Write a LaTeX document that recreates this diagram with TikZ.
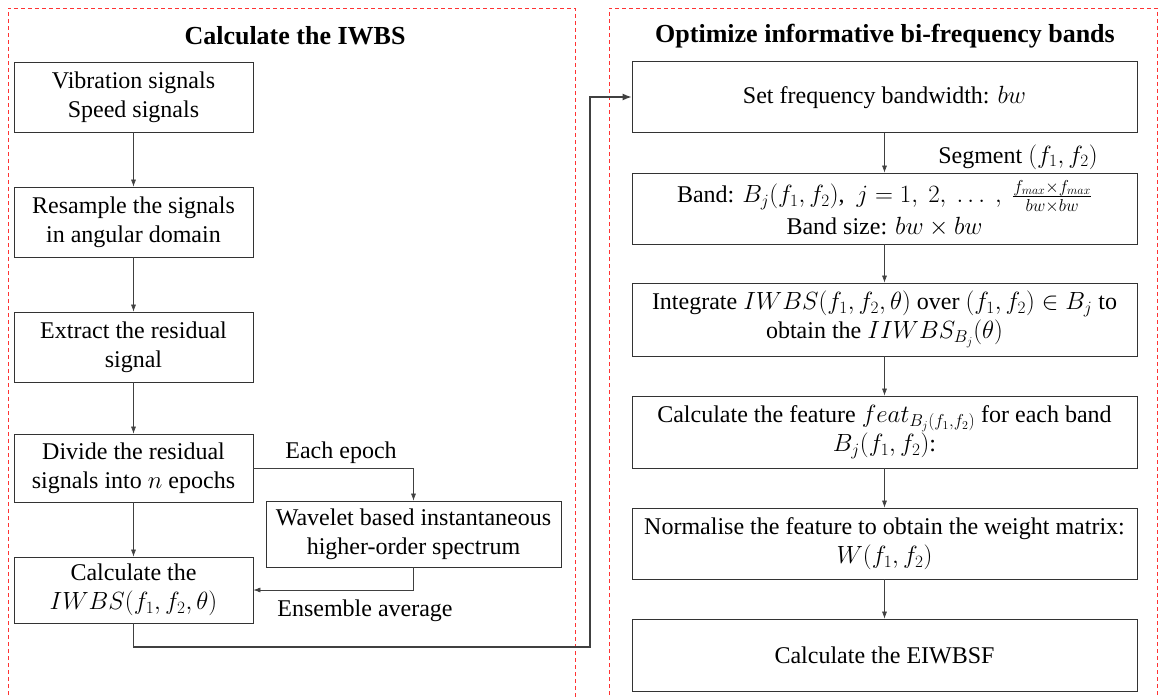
\documentclass[tikz,border=0pt]{standalone}
\usepackage{fontspec}
\setmainfont{Liberation Serif}
\usetikzlibrary{arrows.meta}
\begin{document}
\begin{tikzpicture}[x=1pt,y=-1pt,
  box/.style={draw=black!80, line width=0.8pt, align=center, inner sep=1pt,
    font=\rmfamily\fontsize{24}{29}\selectfont},
  lbox/.style={box, minimum width=239pt},
  rbox/.style={box, minimum width=505pt},
  arr/.style={draw=black!75, line width=0.6pt, -{Latex[length=7pt,width=5pt]}},
  big/.style={draw=black!75, line width=1.3pt, -{Latex[length=9pt,width=7pt]}},
  lbl/.style={font=\rmfamily\fontsize{24}{28}\selectfont, inner sep=0pt},
  ttl/.style={font=\rmfamily\fontsize{26}{30}\selectfont\bfseries, inner sep=0pt},
  frame/.style={draw=red!80, line width=0.8pt, dash pattern=on 4pt off 3pt}
]
\useasboundingbox (0,0) rectangle (1165,698);
% frames
\draw[frame] (8,702) |- (575,8) -- (575,702);
\draw[frame] (609,702) |- (1157,8) -- (1157,702);
\node[ttl] (t1) at (295,36) {Calculate the IWBS};
\node[ttl] (t2) at (885,36) {Optimize informative bi-frequency bands};
% left column
\node[lbox, minimum height=70pt] (b1) at (133.5,97) {Vibration signals\\Speed signals};
\node[lbox, minimum height=70pt] (b2) at (133.5,222) {Resample the signals\\in angular domain};
\node[lbox, minimum height=70pt] (b3) at (133.5,347) {Extract the residual\\signal};
\node[lbox, minimum height=68pt] (b4) at (133.5,468) {Divide the residual\\signals into $n$ epochs};
\node[lbox, minimum height=66pt] (b5) at (133.5,590) {Calculate the\\$IWBS(f_1,f_2,\theta)$};
\node[box, minimum width=295pt, minimum height=66pt] (wv) at (413.5,534) {Wavelet based instantaneous\\higher-order spectrum};
\draw[arr] (b1) -- (b2);
\draw[arr] (b2) -- (b3);
\draw[arr] (b3) -- (b4);
\draw[arr] (b4) -- (b5);
\draw[arr] (b4.east) -| (wv.north);
\draw[arr] (wv.south) |- (b5.east);
\node[lbl] (le) at (341,453) {Each epoch};
\node[lbl] (la) at (365,611) {Ensemble average};
% right column
\node[rbox, minimum height=71pt] (r1) at (884.5,97) {Set frequency bandwidth: $bw$};
\node[rbox, minimum height=71pt] (r2) at (884.5,208.5) {Band: $B_j(f_1,f_2)$,~~$j=1,~2,~\dots~,~\frac{f_{max}\times f_{max}}{bw\times bw}$\\[3pt]Band size: $bw\times bw$};
\node[rbox, minimum height=73pt] (r3) at (884.5,319.5) {Integrate $IWBS(f_1,f_2,\theta)$ over $(f_1,f_2)\in B_j$ to\\obtain the $IIWBS_{B_j}(\theta)$};
\node[rbox, minimum height=72pt] (r4) at (884.5,432) {Calculate the feature $feat_{B_j(f_1,f_2)}$ for each band\\$B_j(f_1,f_2)$:};
\node[rbox, minimum height=71pt] (r5) at (884.5,543.5) {Normalise the feature to obtain the weight matrix:\\$W(f_1,f_2)$};
\node[rbox, minimum height=72pt] (r6) at (884.5,655) {Calculate the EIWBSF};
\draw[arr] (r1) -- (r2);
\draw[arr] (r2) -- (r3);
\draw[arr] (r3) -- (r4);
\draw[arr] (r4) -- (r5);
\draw[arr] (r5) -- (r6);
\node[lbl] (ls) at (1018,157) {Segment $(f_1,f_2)$};
% link between panels
\coordinate (c1) at (590,647);
\draw[big] (b5.south) |- (c1) |- (r1.west);
\end{tikzpicture}
\end{document}
